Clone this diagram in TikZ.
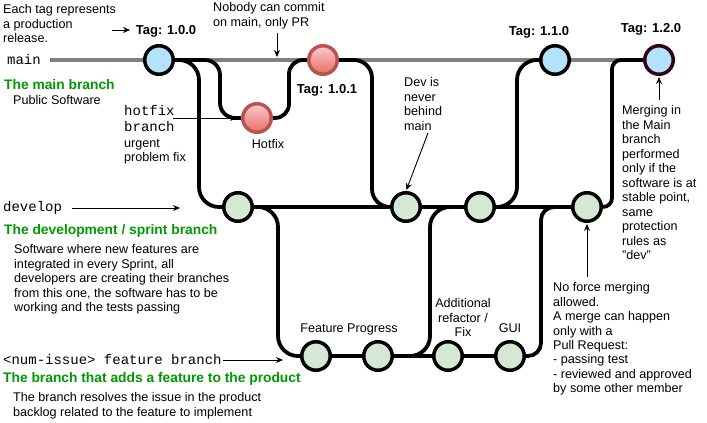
\documentclass[tikz,border=0pt]{standalone}
\usepackage{fontspec}
\setmainfont{Liberation Sans}
\setmonofont{Liberation Mono}
\usetikzlibrary{arrows.meta,backgrounds}
\definecolor{brgreen}{RGB}{0,153,0}
\definecolor{tagblue}{RGB}{180,226,250}
\definecolor{devgreen}{RGB}{213,232,212}
\definecolor{redtop}{RGB}{248,206,204}
\definecolor{redbot}{RGB}{234,107,102}
\definecolor{redline}{RGB}{184,84,80}
\definecolor{tagmaroon}{RGB}{51,0,26}
\definecolor{maingray}{RGB}{128,128,128}
\begin{document}
\begin{tikzpicture}[x=1pt,y=-1pt,
  commit/.style={circle, minimum size=28.5pt, inner sep=0pt, line width=3.5pt, draw=black},
  tagc/.style={commit, fill=tagblue},
  devc/.style={commit, fill=devgreen},
  fixc/.style={commit, draw=redline, top color=redtop, bottom color=redbot},
  conn/.style={line width=3.8pt, rounded corners=18pt},
  mainline/.style={line width=4pt, draw=maingray},
  ann/.style={line width=0.9pt, -{Stealth[length=7pt,width=6pt]}},
  body/.style={font=\fontsize{12.6}{14.4}\selectfont, inner sep=0pt},
  note/.style={body, align=left, anchor=north west},
  taglbl/.style={font=\fontsize{13}{15}\selectfont\bfseries, inner sep=0pt, anchor=base},
  greenlbl/.style={font=\fontsize{13.8}{16}\selectfont\bfseries, text=brgreen, inner sep=0pt, anchor=base west},
  monolbl/.style={font=\fontsize{14}{16}\selectfont\ttfamily, inner sep=0pt, anchor=base west},
]
\useasboundingbox (0,0) rectangle (707,423);

% commits
\node[tagc] (t100) at (159,60) {};
\node[fixc] (hf) at (257,118) {};
\node[fixc] (t101) at (323,60) {};
\node[tagc] (t110) at (555,60) {};
\node[tagc, draw=tagmaroon] (t120) at (659,60) {};
\node[devc] (d1) at (238,207) {};
\node[devc] (d2) at (406,207) {};
\node[devc] (d3) at (480,207) {};
\node[devc] (d4) at (587,207) {};
\node[devc] (f1) at (316,356) {};
\node[devc] (f2) at (378,356) {};
\node[devc] (f3) at (448,356) {};
\node[devc] (f4) at (510,356) {};

\coordinate (mainstart) at (50,60);

\begin{scope}[on background layer]
  \draw[mainline] (mainstart) -- (t120.west);
  \draw[conn, rounded corners=15pt] (t100.east) -- (220,60) -- (220,118) -- (hf.west);
  \draw[conn, rounded corners=14pt] (hf.east) -- (289,118) -- (289,60) -- (t101.west);
  \draw[conn, rounded corners=20pt] (t100.east) -- (199,60) -- (199,207) -- (d1.west);
  \draw[conn] (t101.east) -- (372,60) -- (372,207) -- (d2.west);
  \draw[conn, rounded corners=20pt] (d1.east) -- (278,207) -- (278,356) -- (f1.west);
  \draw[conn, rounded corners=20pt] (f2.east) -- (430,356) -- (430,207) -- (d3.west);
  \draw[conn, rounded corners=20pt] (d3.east) -- (517,207) -- (517,60) -- (t110.west);
  \draw[conn, rounded corners=13pt] (f4.east) -- (541,356) -- (541,207) [rounded corners=20pt] -- (d4.west);
  \draw[conn, rounded corners=9pt] (d4.east) -- (612,207) -- (612,60) [rounded corners=22pt] -- (t120.west);
  \draw[conn] (d1.east) -- (d2.west);
  \draw[conn] (d2.east) -- (d3.west);
  \draw[conn] (d3.east) -- (d4.west);
  \draw[conn] (f1.east) -- (f2.west);
  \draw[conn] (f2.east) -- (f3.west);
  \draw[conn] (f3.east) -- (f4.west);
\end{scope}

% labels
\node[taglbl] (l100) at (166,34.7) {Tag: 1.0.0};
\node[taglbl] (l101) at (327,93.5) {Tag: 1.0.1};
\node[taglbl] (l110) at (539,35.5) {Tag: 1.1.0};
\node[taglbl] (l120) at (651,32.7) {Tag: 1.2.0};
\node[body, anchor=base] (lhf) at (268,148.5) {Hotfix};
\node[body, anchor=base] (lfp) at (349,332.5) {Feature Progress};
\node[body, anchor=base] (lgui) at (510,332.5) {GUI};
\node[body, align=center, anchor=north] (lref) at (463,298.5) {Additional\\refactor /\\Fix};

\node[note] (ntag) at (3,4.5) {Each tag represents\\a production\\release.};
\node[note, font=\fontsize{12.6}{15}\selectfont] (ncommit) at (213,2.5) {Nobody can commit\\on main, only PR};
\node[note] (ndev) at (404,77.5) {Dev is\\never\\behind\\main};
\node[note, font=\fontsize{12.6}{14.5}\selectfont] (nmerge) at (622,105.5) {Merging in\\the Main\\branch\\performed\\only if the\\software is at\\stable point,\\same\\protection\\rules as\\"dev"};
\node[note] (nforce) at (553,282.5) {No force merging\\allowed.\\A merge can happen\\only with a\\Pull Request:\\- passing test\\- reviewed and approved\\by some other member};

\node[monolbl] (lmain) at (7,64) {main};
\node[greenlbl] (gmain) at (4,89) {The main branch};
\node[body, anchor=base west] (dmain) at (13,104.5) {Public Software};

\node[monolbl] (lhot1) at (124,115) {hotfix};
\node[monolbl] (lhot2) at (124,131) {branch};
\node[body, anchor=base west] (lhot3) at (124,147.5) {urgent};
\node[body, anchor=base west] (lhot4) at (124,161.5) {problem fix};

\node[monolbl] (ldev) at (3,211.5) {develop};
\node[greenlbl] (gdev) at (4,234) {The development / sprint branch};
\node[note] (ddev) at (14,244.5) {Software where new features are\\integrated in every Sprint, all\\developers are creating their branches\\from this one, the software has to be\\working and the tests passing};

\node[monolbl] (lfeat) at (3,364) {<num-issue> feature branch};
\node[greenlbl] (gfeat) at (3,382) {The branch that adds a feature to the product};
\node[note] (dfeat) at (13,392.5) {The branch resolves the issue in the product\\backlog related to the feature to implement};

% annotation arrows
\coordinate (a1s) at (112,30);
\coordinate (a1e) at (130,30);
\draw[ann] (a1s) -- (a1e);
\coordinate (a2s) at (277,33);
\coordinate (a2e) at (277,57);
\draw[ann] (a2s) -- (a2e);
\coordinate (a3s) at (173,118);
\coordinate (a3e) at (237,118);
\draw[ann] (a3s) -- (a3e);
\coordinate (a4s) at (428,133);
\draw[ann, shorten >=1pt] (a4s) -- (d2.north);
\coordinate (a5s) at (659,100);
\draw[ann, shorten >=1pt] (a5s) -- (t120.south);
\coordinate (a6s) at (587,277);
\draw[ann, shorten >=1pt] (a6s) -- (d4.south);
\coordinate (a7s) at (72,208);
\coordinate (a7e) at (180,208);
\draw[ann] (a7s) -- (a7e);
\coordinate (a8s) at (223,360);
\coordinate (a8e) at (283,360);
\draw[ann] (a8s) -- (a8e);
\end{tikzpicture}
\end{document}
